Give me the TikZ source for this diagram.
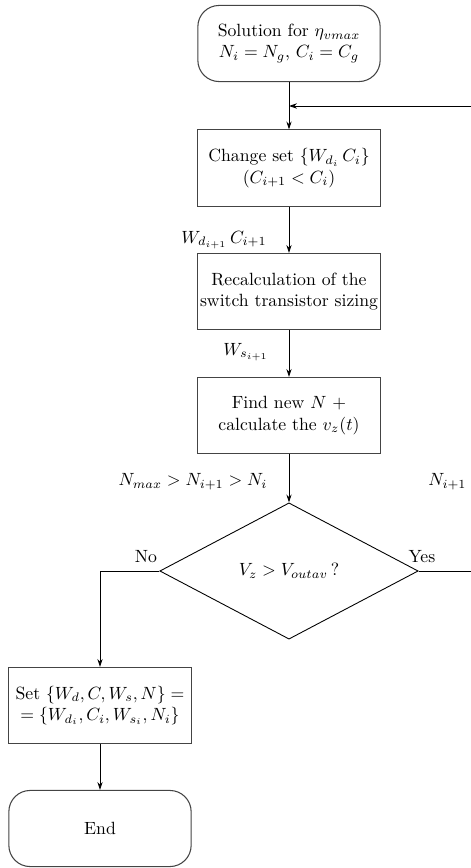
\documentclass[tikz,border=0pt]{standalone}
\usepackage{amsmath,amssymb}
\usetikzlibrary{arrows.meta,positioning,shapes.geometric,calc}
\definecolor{edge}{HTML}{444444}
\tikzset{
  term/.style={rectangle, rounded corners=12pt, draw=edge, line width=0.6pt, minimum width=103pt, minimum height=43pt, align=center, inner sep=1pt},
  proc/.style={rectangle, draw=edge, line width=0.6pt, minimum width=103pt, minimum height=43pt, align=center, inner sep=1pt},
  decide/.style={diamond, draw, line width=0.5pt, aspect=1.9, minimum width=146pt, minimum height=77pt, inner sep=0pt},
  link/.style={-{Stealth[length=4.5pt, width=3pt]}, line width=0.5pt},
  wire/.style={line width=0.5pt},
  lbl/.style={inner sep=0pt},
}

\begin{document}
\begin{tikzpicture}[x=0.565pt, y=-0.565pt]
  \useasboundingbox (0,0) rectangle (471,868);
  % main column
  \node[term] (start) at (289,43.5) {Solution for $\eta_{vmax}$\\ $N_i=N_g$, $C_i=C_g$};
  \node[proc] (chg) at (289,168) {Change set $\{W_{d_i}\,C_i\}$\\ $(C_{i+1}<C_i)$};
  \node[proc] (recalc) at (289,291.5) {Recalculation of the\\ switch transistor sizing};
  \node[proc] (findN) at (289,415.5) {Find new $N$ +\\ calculate the $v_z(t)$};
  \node[decide] (dec) at (289,571) {$V_z>V_{outav}\,?$};
  % left branch
  \node[proc] (setv) at (100,705.5) {Set $\{W_d,C,W_s,N\}=$\\ $=\{W_{d_i},C_i,W_{s_i},N_i\}$};
  \node[term] (finish) at (100,828.5) {End};
  % loop ends at the right border
  \coordinate (loopin) at (471,106);
  \coordinate (join) at (start.south |- loopin);
  \coordinate (yesout) at (471,571);
  % labels
  \node[lbl] (lblWd) at (224,240) {$W_{d_{i+1}}\,C_{i+1}$};
  \node[lbl] (lblWs) at (246,352) {$W_{s_{i+1}}$};
  \node[lbl] (lblN) at (193,482) {$N_{max}>N_{i+1}>N_i$};
  \node[lbl, anchor=west] (lblNr) at (428,482) {$N_{i+1}$};
  \node[lbl] (lblNo) at (146,557) {No};
  \node[lbl] (lblYes) at (422,557) {Yes};
  % connectors
  \draw[link] (start) -- (chg);
  \draw[link] (loopin) -- (join);
  \draw[link] (chg) -- (recalc);
  \draw[link] (recalc) -- (findN);
  \draw[link] (findN) -- (dec);
  \draw[wire] (dec.east) -- (yesout);
  \draw[link] (dec.west) -| (setv.north);
  \draw[link] (setv) -- (finish);
\end{tikzpicture}
\end{document}
